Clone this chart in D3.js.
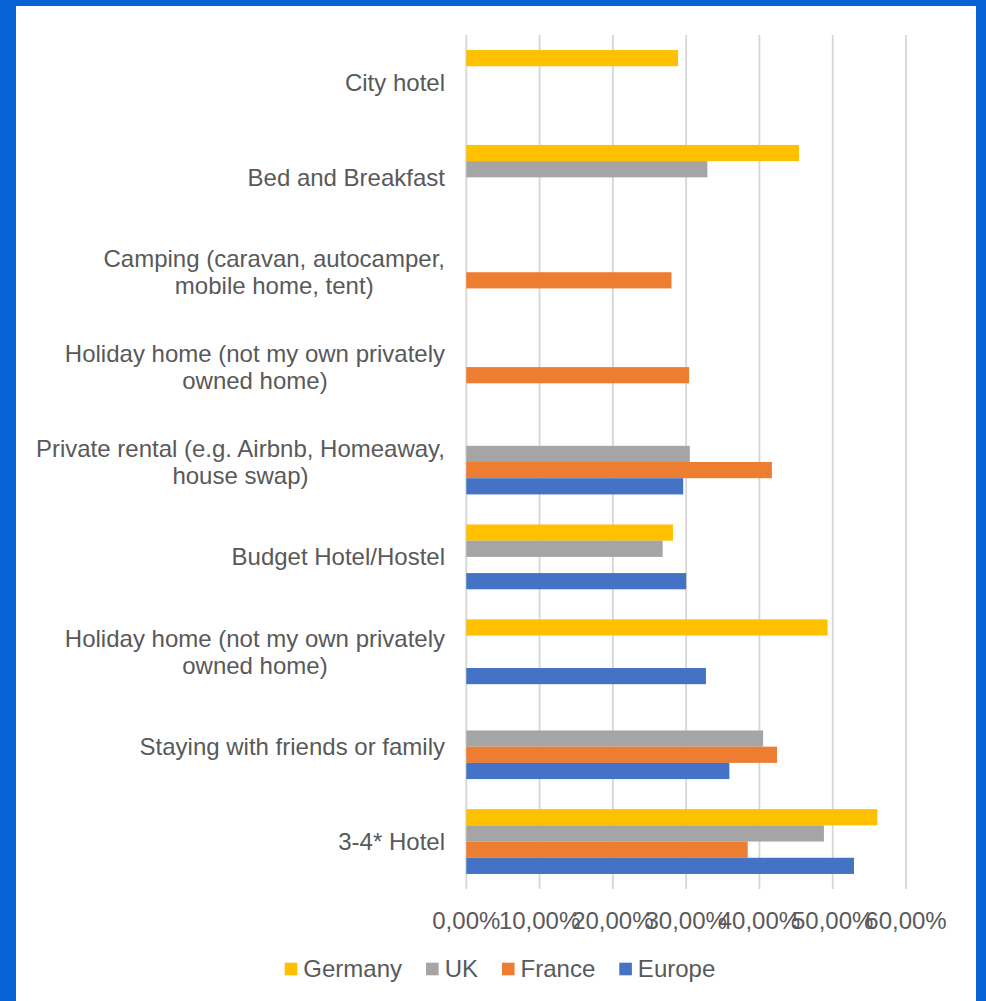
<!DOCTYPE html>
<html>
<head>
<meta charset="utf-8">
<script src="https://cdn.jsdelivr.net/npm/d3@7"></script>
<style>
  html, body { margin: 0; padding: 0; background: #fff; }
  svg { display: block; }
  text { font-family: "Liberation Sans", Arial, sans-serif; fill: #595959; }
</style>
</head>
<body>
<svg id="chart" width="986" height="1001"></svg>
<script>
// Accommodation categories, bottom of the chart last; "\n" marks a line break in the label
const categories = [
  "City hotel",
  "Bed and Breakfast",
  "Camping (caravan, autocamper,\nmobile home, tent)",
  "Holiday home (not my own privately\nowned home)",
  "Private rental (e.g. Airbnb, Homeaway,\nhouse swap)",
  "Budget Hotel/Hostel",
  "Holiday home (not my own privately\nowned home)",
  "Staying with friends or family",
  "3-4* Hotel"
];

const seriesNames = ["Germany", "UK", "France", "Europe"];

// Share of respondents (%), null where no bar is shown
const germany = [28.9, 45.4, null, null, null, 28.2, 49.3, null, 56.1];
const uk      = [null, 32.9, null, null, 30.5, 26.8, null, 40.5, 48.8];
const france  = [null, null, 28.0, 30.4, 41.7, null, null, 42.4, 38.4];
const europe  = [null, null, null, null, 29.6, 30.0, 32.7, 35.9, 52.9];

const tickValues = [0, 10, 20, 30, 40, 50, 60];

const seriesValues = [germany, uk, france, europe];
const colors = ["#FFC000", "#A5A5A5", "#ED7D31", "#4472C4"];

const svg = d3.select("#chart");
const W = 986, H = 1001;

// Blue frame with white panel
svg.append("rect").attr("width", W).attr("height", H).attr("fill", "#0563D5");
svg.append("rect").attr("x", 16).attr("y", 6).attr("width", 960).attr("height", H).attr("fill", "#fff");

const plot = { left: 466.3, right: 906, top: 35, bottom: 889 };
const fontSize = 24;

const x = d3.scaleLinear().domain([0, 60]).range([plot.left, plot.right]);

const y = d3.scaleBand()
  .domain(d3.range(categories.length))
  .range([plot.top, plot.bottom])
  .paddingInner(0.317)
  .paddingOuter(0.1585);

const ySub = d3.scaleBand()
  .domain(seriesNames)
  .range([0, y.bandwidth()]);

// Vertical gridlines
svg.append("g")
  .selectAll("line")
  .data(tickValues)
  .join("line")
  .attr("x1", d => x(d)).attr("x2", d => x(d))
  .attr("y1", plot.top).attr("y2", plot.bottom)
  .attr("stroke", "#D6D6D6")
  .attr("stroke-width", 1.8);

// Bars
const rows = [];
seriesValues.forEach((vals, s) => {
  vals.forEach((v, i) => {
    if (v != null) rows.push({ i, s, v });
  });
});

svg.append("g")
  .selectAll("rect")
  .data(rows)
  .join("rect")
  .attr("x", x(0))
  .attr("y", d => y(d.i) + ySub(seriesNames[d.s]))
  .attr("width", d => x(d.v) - x(0))
  .attr("height", ySub.bandwidth())
  .attr("fill", d => colors[d.s]);

// X axis tick labels (comma decimal)
const locale = d3.formatLocale({ decimal: ",", thousands: ".", grouping: [3], currency: ["", "€"] });
const fmt = locale.format(".2f");

svg.append("g")
  .selectAll("text")
  .data(tickValues)
  .join("text")
  .attr("x", d => x(d))
  .attr("y", 928.5)
  .attr("text-anchor", "middle")
  .attr("font-size", fontSize)
  .text(d => fmt(d) + "%");

// Category labels: block right-aligned to the axis, lines centred in the block
const labelRight = 445;
const lineH = 27;
const labelG = svg.append("g");
categories.forEach((cat, i) => {
  const lines = cat.split("\n");
  const cy = y(i) + y.bandwidth() / 2;
  const g = labelG.append("g");
  const texts = lines.map((ln, k) =>
    g.append("text")
      .attr("font-size", fontSize)
      .attr("y", cy + (k - (lines.length - 1) / 2) * lineH)
      .attr("dy", "0.35em")
      .text(ln)
  );
  const widths = texts.map(t => t.node().getComputedTextLength());
  const blockW = d3.max(widths);
  const centre = labelRight - blockW / 2;
  texts.forEach(t => t.attr("x", centre).attr("text-anchor", "middle"));
});

// Legend
const legend = svg.append("g");
const sw = 12.6, swGap = 6, itemGap = 24;
const items = seriesNames.map((name, s) => {
  const g = legend.append("g");
  g.append("rect").attr("width", sw).attr("height", sw).attr("fill", colors[s]);
  const t = g.append("text")
    .attr("x", sw + swGap)
    .attr("y", sw + 1.7)
    .attr("font-size", fontSize)
    .text(name);
  return { g, w: sw + swGap + t.node().getComputedTextLength() };
});
const total = d3.sum(items, d => d.w) + itemGap * (items.length - 1);
let lx = 500 - total / 2;
items.forEach(it => {
  it.g.attr("transform", `translate(${lx},962.7)`);
  lx += it.w + itemGap;
});
</script>
</body>
</html>
